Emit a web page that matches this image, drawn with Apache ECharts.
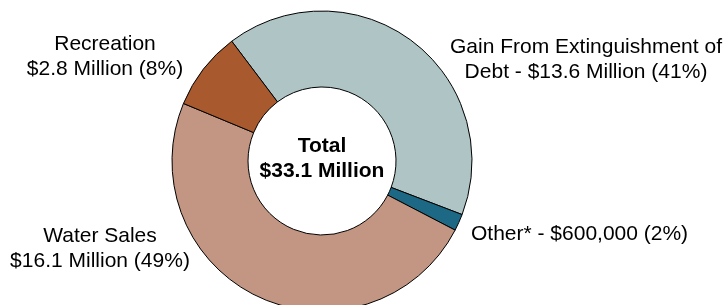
<!DOCTYPE html>
<html>
<head>
    <meta charset="UTF-8" />
    <title>Revenue donut</title>
    <script src="https://cdn.jsdelivr.net/npm/echarts@6/dist/echarts.min.js"></script>
    <style>
        html, body { margin: 0; padding: 0; background: #fff; }
        #chart { width: 728px; height: 305px; }
    </style>
</head>
<body>
<div id="chart"></div>
<script>
    // data (millions of dollars)
    var categories = ['Gain From Extinguishment of Debt', 'Other*', 'Water Sales', 'Recreation'];
    var values = [13.6, 0.6, 16.1, 2.8];
    var labelText = [
        'Gain From Extinguishment of\nDebt - $13.6 Million (41%)',
        'Other* - $600,000 (2%)',
        'Water Sales\n$16.1 Million (49%)',
        'Recreation\n$2.8 Million (8%)'
    ];
    var colors = ['#afc4c4', '#1d6985', '#c39683', '#a8592d'];

    // where each label sits
    var labelPos = [
        { x: 586, y: 60, align: 'center' },
        { x: 471, y: 234, align: 'left' },
        { x: 100, y: 249, align: 'center' },
        { x: 105, y: 57, align: 'center' }
    ];

    var font = "'Liberation Sans', Arial, sans-serif";
    var total = 0;
    for (var i = 0; i < values.length; i++) total += values[i];

    var chart = echarts.init(document.getElementById('chart'));
    var option = {
        animation: false,
        backgroundColor: '#ffffff',
        graphic: [{
            type: 'text',
            x: 322,
            y: 159,
            style: {
                text: 'Total\n$' + total.toFixed(1) + ' Million',
                fontFamily: font,
                fontSize: 21,
                fontWeight: 'bold',
                lineHeight: 25,
                fill: '#000',
                align: 'center',
                verticalAlign: 'middle'
            }
        }],
        series: [{
            type: 'pie',
            center: [322, 161],
            radius: [74, 150],
            startAngle: 127,
            clockwise: true,
            minShowLabelAngle: 0,
            itemStyle: { borderColor: '#000', borderWidth: 1 },
            label: {
                show: true,
                position: 'outside',
                alignTo: 'none',
                overflow: 'none',
                width: 400,
                fontFamily: font,
                fontSize: 21,
                lineHeight: 25,
                color: '#000',
                formatter: function (p) { return labelText[p.dataIndex]; }
            },
            labelLine: { show: false },
            labelLayout: function (p) {
                var lp = labelPos[p.dataIndex];
                return { x: lp.x, y: lp.y, align: lp.align, verticalAlign: 'middle', hideOverlap: false };
            },
            data: categories.map(function (c, i) {
                return { name: c, value: values[i], itemStyle: { color: colors[i] } };
            })
        }]
    };
    chart.setOption(option);
</script>
</body>
</html>
